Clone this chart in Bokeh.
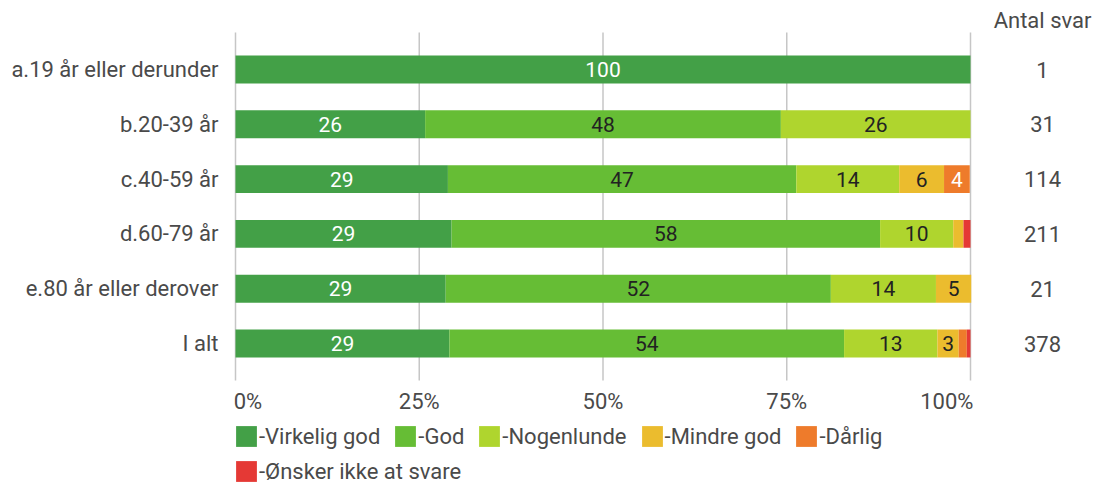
from bokeh.plotting import figure
from bokeh.models import (ColumnDataSource, Range1d, FixedTicker, Legend, LegendItem)
from bokeh.core.properties import value
from bokeh.embed import file_html
from bokeh.resources import INLINE

categories = ["a.19 år eller derunder", "b.20-39 år", "c.40-59 år",
              "d.60-79 år", "e.80 år eller derover", "I alt"]
series_names = ["-Virkelig god", "-God", "-Nogenlunde", "-Mindre god", "-Dårlig",
                "-Ønsker ikke at svare"]
virkelig_god = [100.0, 25.8, 28.9, 29.4, 28.6, 29.1]
god = [0.0, 48.4, 47.4, 58.3, 52.4, 53.7]
nogenlunde = [0.0, 25.8, 14.0, 9.95, 14.3, 12.7]
mindre_god = [0.0, 0.0, 6.1, 1.4, 4.8, 2.9]
darlig = [0.0, 0.0, 3.5, 0.0, 0.0, 1.1]
onsker_ikke = [0.0, 0.0, 0.0, 0.95, 0.0, 0.5]
antal_svar = [1, 31, 114, 211, 21, 378]
count_header = "Antal svar"
x_ticks = [0, 25, 50, 75, 100]
x_tick_labels = ["0%", "25%", "50%", "75%", "100%"]

colors = ["#43A047", "#66BD35", "#AFD52E", "#EBBC2E", "#EE7B2B", "#E53935"]
text_colors = ["#ffffff", "#222222", "#222222", "#222222", "#ffffff", "#ffffff"]
FONT = "Roboto"
GRAY = "#4a4a4a"

W, H = 1100, 484
LEFT = 233                 # frame left edge in px
PX_X = 7.35                # px per percent
PX_Y = 54.8                # px per row
ROW0 = 69                  # px centre of first row
x0 = -(235 - LEFT) / PX_X
x1 = x0 + (W - LEFT) / PX_X
y_top = -ROW0 / PX_Y
y_bot = y_top + H / PX_Y

keys = ["s0", "s1", "s2", "s3", "s4", "s5"]
all_series = [virkelig_god, god, nogenlunde, mindre_god, darlig, onsker_ikke]
data = {"y": list(range(len(categories)))}
for k, s in zip(keys, all_series):
    data[k] = s
source = ColumnDataSource(data)

p = figure(width=W, height=H, output_backend="svg", toolbar_location=None,
           x_range=Range1d(x0, x1), y_range=Range1d(y_bot, y_top),
           x_axis_location=None,
           min_border_left=LEFT, min_border_right=0, min_border_top=0,
           min_border_bottom=0)
p.outline_line_color = None
p.background_fill_color = None
p.border_fill_color = "white"
p.xgrid.grid_line_color = None
p.ygrid.grid_line_color = None

# vertical grid lines at the x ticks (from first to last row area)
grid_top = -0.675
grid_bot = len(categories) - 1 + 0.675
p.segment(x0=x_ticks, x1=x_ticks, y0=[grid_top] * len(x_ticks),
          y1=[grid_bot] * len(x_ticks), line_color="#c6c6c6", line_width=1.5)

renderers = p.hbar_stack(keys, y="y", height=0.51, source=source, color=colors,
                         line_color=None)

# segment labels
lx, ly, lt, lc = [], [], [], []
for i in range(len(categories)):
    left = 0.0
    for j, s in enumerate(all_series):
        v = s[i]
        if v >= 2.5:
            lx.append(left + v / 2)
            ly.append(i)
            lt.append(str(int(round(v))))
            lc.append(text_colors[j])
        left += v
lsrc = ColumnDataSource(dict(x=lx, y=ly, t=lt, c=lc))
p.text(x="x", y="y", text="t", source=lsrc, text_color="c", text_align="center",
       text_baseline="middle", text_font=value(FONT), text_font_size="21px")

# x tick labels (first/last clamped to the plot edges)
aligns = ["left"] + ["center"] * (len(x_ticks) - 2) + ["right"]
tx = [t for t in x_ticks]
tx[0] = x_ticks[0] - 0.25
tx[-1] = x_ticks[-1] + 0.4
tsrc = ColumnDataSource(dict(x=tx, y=[grid_bot + 0.385] * len(x_ticks),
                             t=x_tick_labels, a=aligns))
p.text(x="x", y="y", text="t", source=tsrc, text_align="a", text_baseline="middle",
       text_color=GRAY, text_font=value(FONT), text_font_size="22px")

# y axis with category labels
ya = p.yaxis[0]
ya.ticker = FixedTicker(ticks=list(range(len(categories))))
ya.major_label_overrides = {i: c for i, c in enumerate(categories)}
ya.axis_line_color = None
ya.major_tick_line_color = None
ya.minor_tick_line_color = None
ya.major_label_text_font = FONT
ya.major_label_text_font_size = "22px"
ya.major_label_text_color = GRAY
ya.major_label_standoff = 9

# counts column
count_x = 109.8
csrc = ColumnDataSource(dict(x=[count_x] * (len(antal_svar) + 1),
                             y=[-0.894] + list(range(len(antal_svar))),
                             t=[count_header] + [str(n) for n in antal_svar]))
p.text(x="x", y="y", text="t", source=csrc, text_align="center",
       text_baseline="middle", text_color=GRAY, text_font=value(FONT),
       text_font_size="22px")

# legends
def make_legend(items, loc):
    lg = Legend(items=items, orientation="horizontal", location=loc)
    lg.label_text_font = FONT
    lg.label_text_font_size = "22px"
    lg.label_text_color = GRAY
    lg.glyph_width = 26
    lg.glyph_height = 26
    lg.label_height = 26
    lg.label_standoff = 0
    lg.spacing = 12
    lg.padding = 0
    lg.margin = 0
    lg.border_line_color = None
    lg.background_fill_alpha = 0
    return lg

items1 = [LegendItem(label=series_names[j], renderers=[renderers[j]]) for j in range(5)]
items2 = [LegendItem(label=series_names[5], renderers=[renderers[5]])]
p.add_layout(make_legend(items1, (0, 35)))
p.add_layout(make_legend(items2, (0, 0)))

open("out.html", "w").write(file_html(p, INLINE))
